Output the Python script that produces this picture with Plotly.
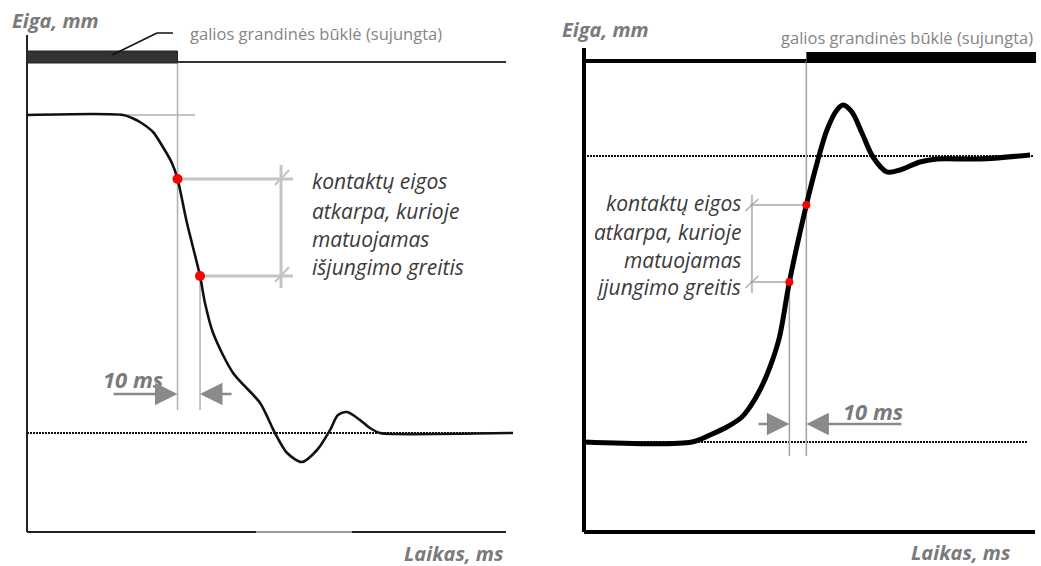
import plotly.graph_objects as go

# ---- Left panel: contact travel while opening (time in ms, travel in mm)
left_t = [0, 42.7, 46.7, 50.2, 56.0, 60.4, 64.4, 66.9, 71.1, 76.9, 79.1, 82.7,
          91.6, 103.6, 110.2, 115.6, 122.2, 128.9, 134.7, 138.2, 142.2, 148.0,
          152.4, 156.9, 164.4, 216.0]
left_travel = [41.7, 41.7, 41.4, 41.0, 40.0, 38.5, 36.9, 35.3, 30.9, 25.6, 22.9, 19.9,
               15.9, 12.9, 9.9, 7.9, 7.0, 8.2, 10.2, 11.7, 12.0, 11.2,
               10.4, 9.9, 9.8, 9.9]
left_mark_t = [66.9, 76.9]
left_mark_travel = [35.3, 25.6]
left_start_level = 41.7
left_end_level = 9.9

# ---- Right panel: contact travel while closing
right_t = [0, 63.5, 74.1, 84.1, 92.9, 97.6, 103.5, 109.4, 115.0, 120.8, 130.8,
           137.1, 142.9, 148.8, 152.4, 157.6, 163.5, 170.0, 178.2, 185.9, 197.6,
           207.6, 232.9, 262.4]
right_travel = [9.0, 9.0, 9.7, 10.5, 11.5, 12.5, 14.2, 16.5, 19.5, 25.0, 32.7,
                36.9, 40.2, 42.2, 42.7, 42.0, 39.9, 37.5, 36.0, 36.2, 37.0,
                37.3, 37.3, 37.7]
right_mark_t = [120.8, 130.8]
right_mark_travel = [25.0, 32.7]
right_start_level = 9.0
right_end_level = 37.6

state_label = "galios grandinės būklė (sujungta)"
y_title = "Eiga, mm"
x_title = "Laikas, ms"
gap_label = "10 ms"
left_note = ["kontaktų eigos", "atkarpa, kurioje", "matuojamas", "išjungimo greitis"]
right_note = ["kontaktų eigos", "atkarpa, kurioje", "matuojamas", "įjungimo greitis"]

FONT = "Open Sans"
GREY_TXT = "#7a7a7a"
NOTE_TXT = "#3a3a3a"

fig = go.Figure()

# curves
fig.add_trace(go.Scatter(x=left_t, y=left_travel, mode="lines",
                         line=dict(color="#111111", width=2.6, shape="spline", smoothing=0.8),
                         xaxis="x", yaxis="y", hoverinfo="skip", cliponaxis=False))
fig.add_trace(go.Scatter(x=right_t, y=right_travel, mode="lines",
                         line=dict(color="#000000", width=5, shape="spline", smoothing=0.9),
                         xaxis="x2", yaxis="y2", hoverinfo="skip", cliponaxis=False))

shapes = []


def seg(x0, y0, x1, y1, ax, color, width, dash=None, layer="below"):
    line = dict(color=color, width=width)
    if dash:
        line["dash"] = dash
    shapes.append(dict(type="line", xref=ax[0], yref=ax[1], x0=x0, y0=y0, x1=x1, y1=y1,
                       line=line, layer=layer))


L = ("x", "y")
R = ("x2", "y2")

# ---- left panel frame and state bar
seg(0, 49.7, 0, 0, L, "#222222", 2)
seg(0, 0, 212.9, 0, L, "#222222", 2)
seg(101.8, 0, 144.4, 0, L, "#9a9a9a", 2)
shapes.append(dict(type="rect", xref="x", yref="y", x0=0, x1=left_mark_t[0], y0=46.9, y1=48.1,
                   fillcolor="#333333", line=dict(color="#222222", width=1)))
seg(left_mark_t[0], 47.0, 212.9, 47.0, L, "#333333", 2)
# leader line to the state label
seg(37.8, 47.7, 57.8, 49.9, L, "#111111", 1.5, layer="above")
seg(57.8, 49.9, 64.9, 49.9, L, "#111111", 1.5, layer="above")

# reference levels
seg(0, left_end_level, 216.0, left_end_level, L, "#111111", 2, dash="2px,1px")
seg(42.0, left_start_level, 74.7, left_start_level, L, "#b0b0b0", 1.3)
seg(left_mark_t[0], 47.0, left_mark_t[0], 12.2, L, "#b0b0b0", 1.5)
seg(left_mark_t[1], left_mark_travel[1], left_mark_t[1], 12.2, L, "#b0b0b0", 1.5)

# measuring bracket
bx = 112.9
seg(left_mark_t[0], left_mark_travel[0], 118.2, left_mark_travel[0], L, "#c4c4c4", 3)
seg(left_mark_t[1], left_mark_travel[1], 118.2, left_mark_travel[1], L, "#c4c4c4", 3)
seg(bx, 36.7, bx, 24.4, L, "#c4c4c4", 3)
for lv in left_mark_travel:
    seg(bx - 2.7, lv - 0.6, bx + 3.6, lv + 0.9, L, "#c4c4c4", 2)

# ---- right panel frame and state bar
seg(0, 48.4, 0, 0, R, "#000000", 4)
seg(0, 0, 265.3, 0, R, "#000000", 4)
seg(0, 47.1, right_mark_t[1], 47.1, R, "#000000", 4)
shapes.append(dict(type="rect", xref="x2", yref="y2", x0=right_mark_t[1], x1=265.9, y0=46.9, y1=48.0,
                   fillcolor="#000000", line=dict(color="#000000", width=0)))

seg(0, right_end_level, 264.7, right_end_level, R, "#111111", 2, dash="2px,1px")
seg(0, right_start_level, 261.2, right_start_level, R, "#111111", 2, dash="2px,1px")
seg(right_mark_t[1], 47.1, right_mark_t[1], 7.6, R, "#a0a0a0", 1.5)
seg(right_mark_t[0], right_mark_travel[0], right_mark_t[0], 7.6, R, "#a0a0a0", 1.5)

rbx = 98.8
seg(97.6, right_mark_travel[1], right_mark_t[1], right_mark_travel[1], R, "#a8a8a8", 1.5)
seg(97.6, right_mark_travel[0], right_mark_t[0], right_mark_travel[0], R, "#a8a8a8", 1.5)
seg(rbx, 33.7, rbx, 23.9, R, "#a8a8a8", 1.5)
for lv in right_mark_travel:
    seg(rbx - 3.8, lv - 0.6, rbx + 3.8, lv + 0.6, R, "#a8a8a8", 1.2)

# red measuring points
fig.add_trace(go.Scatter(x=left_mark_t, y=left_mark_travel, mode="markers",
                         marker=dict(color="#ff0000", size=10), xaxis="x", yaxis="y",
                         hoverinfo="skip", cliponaxis=False))
fig.add_trace(go.Scatter(x=right_mark_t, y=right_mark_travel, mode="markers",
                         marker=dict(color="#ff0000", size=8), xaxis="x2", yaxis="y2",
                         hoverinfo="skip", cliponaxis=False))

ann = []


def text(x, y, s, ax, size, color, xanchor="left", bold=False, italic=False):
    if italic:
        s = "<i>" + s + "</i>"
    if bold:
        s = "<b>" + s + "</b>"
    ann.append(dict(x=x, y=y, xref=ax[0], yref=ax[1], text=s, showarrow=False,
                    xanchor=xanchor, yanchor="middle",
                    font=dict(family=FONT, size=size, color=color)))


def arrow(x_tip, x_tail, y, ax):
    ann.append(dict(x=x_tip, y=y, ax=x_tail, ay=y, xref=ax[0], yref=ax[1],
                    axref=ax[0], ayref=ax[1], text="", showarrow=True,
                    arrowhead=2, arrowsize=1.8, arrowwidth=2.5, arrowcolor="#8a8a8a",
                    standoff=0, startstandoff=0))


# left panel texts
text(-7.6, 51.2, y_title, L, 20, GREY_TXT, bold=True, italic=True)
text(212.9, -2.1, x_title, L, 20, GREY_TXT, xanchor="right", bold=True, italic=True)
text(71.6, 49.9, state_label, L, 16.5, "#858585")
for s, yv in zip(left_note, [35.1, 32.1, 29.3, 26.5]):
    text(125.8, yv, s, L, 21, NOTE_TXT, italic=True)
text(46.9, 15.3, gap_label, L, 22, GREY_TXT, xanchor="center", bold=True, italic=True)
arrow(left_mark_t[0], 37.8, 13.8, L)
arrow(left_mark_t[1], 91.6, 13.8, L)

# right panel texts
text(-14.1, 50.3, y_title, R, 20, GREY_TXT, bold=True, italic=True)
text(252.4, -2.0, x_title, R, 20, GREY_TXT, xanchor="right", bold=True, italic=True)
text(265.3, 49.5, state_label, R, 16.5, "#858585", xanchor="right")
for s, yv in zip(right_note, [32.9, 30.0, 27.2, 24.5]):
    text(93.5, yv, s, R, 21, NOTE_TXT, xanchor="right", italic=True)
text(170.0, 12.1, gap_label, R, 22, GREY_TXT, xanchor="center", bold=True, italic=True)
arrow(right_mark_t[0], 101.8, 10.8, R)
arrow(right_mark_t[1], 187.6, 10.8, R)

axis_off = dict(visible=False, showgrid=False, zeroline=False, fixedrange=True)
fig.update_layout(
    width=1041, height=566,
    margin=dict(l=0, r=0, t=0, b=0),
    paper_bgcolor="white", plot_bgcolor="white",
    showlegend=False,
    xaxis=dict(domain=[0, 0.5], range=[-12, 219.33], anchor="y", **axis_off),
    yaxis=dict(domain=[0, 1], range=[-3.4, 53.2], anchor="x", **axis_off),
    xaxis2=dict(domain=[0.5, 1], range=[-37.35, 268.82], anchor="y2", **axis_off),
    yaxis2=dict(domain=[0, 1], range=[-3.4, 53.2], anchor="x2", **axis_off),
    shapes=shapes,
    annotations=ann,
)

fig.write_html("out.html", config={"displayModeBar": False})
